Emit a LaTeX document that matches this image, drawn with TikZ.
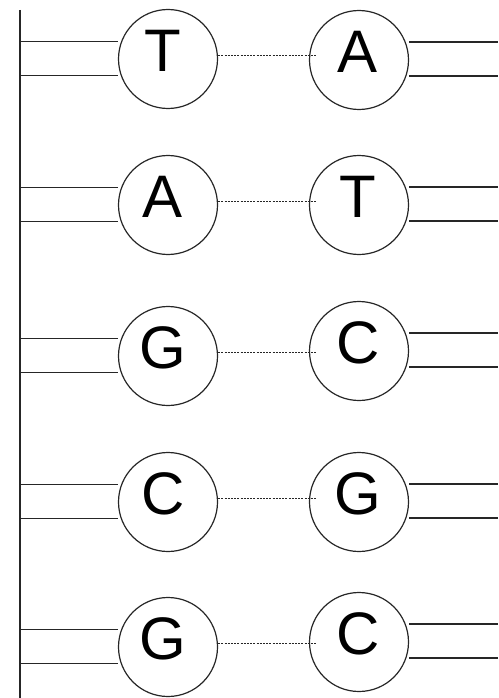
\documentclass[tikz,border=0pt]{standalone}
\usepackage{fontspec}
\setmainfont{Liberation Sans}
\begin{document}
\begin{tikzpicture}[x=1pt,y=1pt,
  base/.style={circle,draw=black!85,line width=1.2pt,minimum size=99pt,inner sep=0pt},
  rail/.style={draw=black!85,line width=1.7pt},
  hbond/.style={draw=black!85,line width=1pt,dash pattern=on 2pt off 1.2pt},
  letter/.style={font=\fontsize{60}{60}\selectfont,inner sep=0pt}]
\useasboundingbox (0,0) rectangle (498,-698);
\coordinate (trtop) at (20,-10);
\coordinate (trbot) at (20,-698);
\coordinate (redge) at (498,0);
\draw[rail,line width=2pt] (trtop) -- (trbot);
\foreach \i/\ly/\ry/\lt/\rt in {1/59/60/T/A, 2/205/205/A/T, 3/356/351/G/C, 4/502/502/C/G, 5/647/642/G/C}{
  \node[base,label={[letter,xshift=-5pt,yshift=8pt]center:\lt}] (L\i) at (168,-\ly) {};
  \node[base,label={[letter,xshift=-1pt,yshift=8pt]center:\rt}] (R\i) at (359,-\ry) {};
  \draw[rail] ([yshift=17.5pt]L\i.west) -- ([yshift=17.5pt]trtop |- L\i.center);
  \draw[rail] ([yshift=-16.5pt]L\i.west) -- ([yshift=-16.5pt]trtop |- L\i.center);
  \draw[rail] ([yshift=18pt]R\i.east) -- ([yshift=18pt]redge |- R\i.center);
  \draw[rail] ([yshift=-16pt]R\i.east) -- ([yshift=-16pt]redge |- R\i.center);
  \draw[hbond] ([yshift=3.5pt]L\i.east) -- ([xshift=8pt,yshift=3.5pt]R\i.west |- L\i.east);
}
\end{tikzpicture}
\end{document}
